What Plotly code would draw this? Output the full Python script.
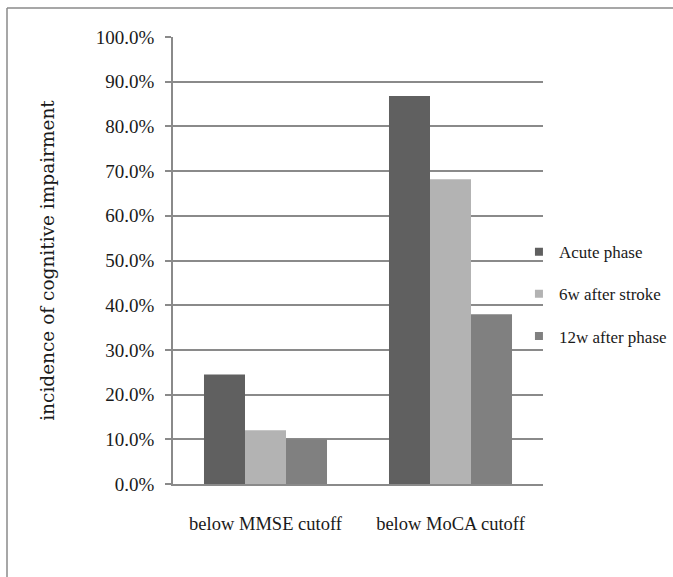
import plotly.graph_objects as go

categories = ["below MMSE cutoff", "below MoCA cutoff"]
series_names = ["Acute phase", "6w after stroke", "12w after phase"]
acute_phase = [0.245, 0.868]
six_weeks = [0.120, 0.682]
twelve_weeks = [0.100, 0.380]
series_values = [acute_phase, six_weeks, twelve_weeks]
colors = ["#606060", "#b3b3b3", "#808080"]
y_ticks = [0.0, 0.1, 0.2, 0.3, 0.4, 0.5, 0.6, 0.7, 0.8, 0.9, 1.0]

fig = go.Figure()
for name, vals, col in zip(series_names, series_values, colors):
    fig.add_trace(go.Bar(
        x=categories, y=vals, name=name, marker=dict(color=col, line=dict(width=0)),
        showlegend=False,
    ))
# legend entries with small square swatches
for i, (name, col) in enumerate(zip(series_names, colors)):
    fig.add_trace(go.Scatter(
        x=[None], y=[None], mode="markers", name=name, legendgroup="g%d" % i,
        marker=dict(symbol="square", size=8, color=col),
    ))

serif = "Liberation Serif, serif"
grid = "#8a8a8a"

# outer frame (top and left edges visible in the reference)
fx0 = (7 - 173) / 370
fx1 = (673 - 173) / 370
fy0 = (484 - 577) / 447
fy1 = (484 - 8) / 447

fig.update_layout(
    width=673, height=577,
    margin=dict(l=173, r=130, t=37, b=93, autoexpand=False),
    paper_bgcolor="white", plot_bgcolor="white",
    barmode="group", bargap=0.335, bargroupgap=0,
    font=dict(family=serif, size=18, color="#1a1a1a"),
    showlegend=True,
    legend=dict(
        x=0.935, xanchor="left", y=0.559, yanchor="top",
        font=dict(family=serif, size=17, color="#1a1a1a"),
        tracegroupgap=17, itemwidth=30, bgcolor="rgba(0,0,0,0)",
    ),
    xaxis=dict(
        showgrid=False, showline=True, linecolor=grid, linewidth=2,
        ticks="", ticklabelstandoff=22,
        tickfont=dict(family=serif, size=18.5, color="#1a1a1a"),
    ),
    yaxis=dict(
        range=[0, 1.0], tickvals=y_ticks, tickformat=".1%",
        showgrid=True, gridcolor=grid, gridwidth=1.5,
        showline=True, linecolor=grid, linewidth=1.5,
        ticks="outside", ticklen=6, tickcolor=grid, tickwidth=1.5,
        ticklabelstandoff=7, zeroline=False,
        tickfont=dict(family=serif, size=19, color="#1a1a1a"),
        title=dict(text="incidence of cognitive impairment", standoff=36,
                   font=dict(family="DejaVu Serif, serif", size=18.5, color="#1a1a1a")),
    ),
    shapes=[
        dict(type="line", xref="paper", yref="paper", x0=fx0, x1=fx1, y0=fy1, y1=fy1,
             line=dict(color="#8a8a8a", width=1.5), layer="below"),
        dict(type="line", xref="paper", yref="paper", x0=fx0, x1=fx0, y0=fy0, y1=fy1,
             line=dict(color="#8a8a8a", width=1.5), layer="below"),
    ],
)

fig.write_html(
    "out.html", config={"displayModeBar": False},
    post_script=("document.body.style.margin='0';"
                 "document.body.style.overflow='hidden';"
                 "document.documentElement.style.overflow='hidden';"),
)
